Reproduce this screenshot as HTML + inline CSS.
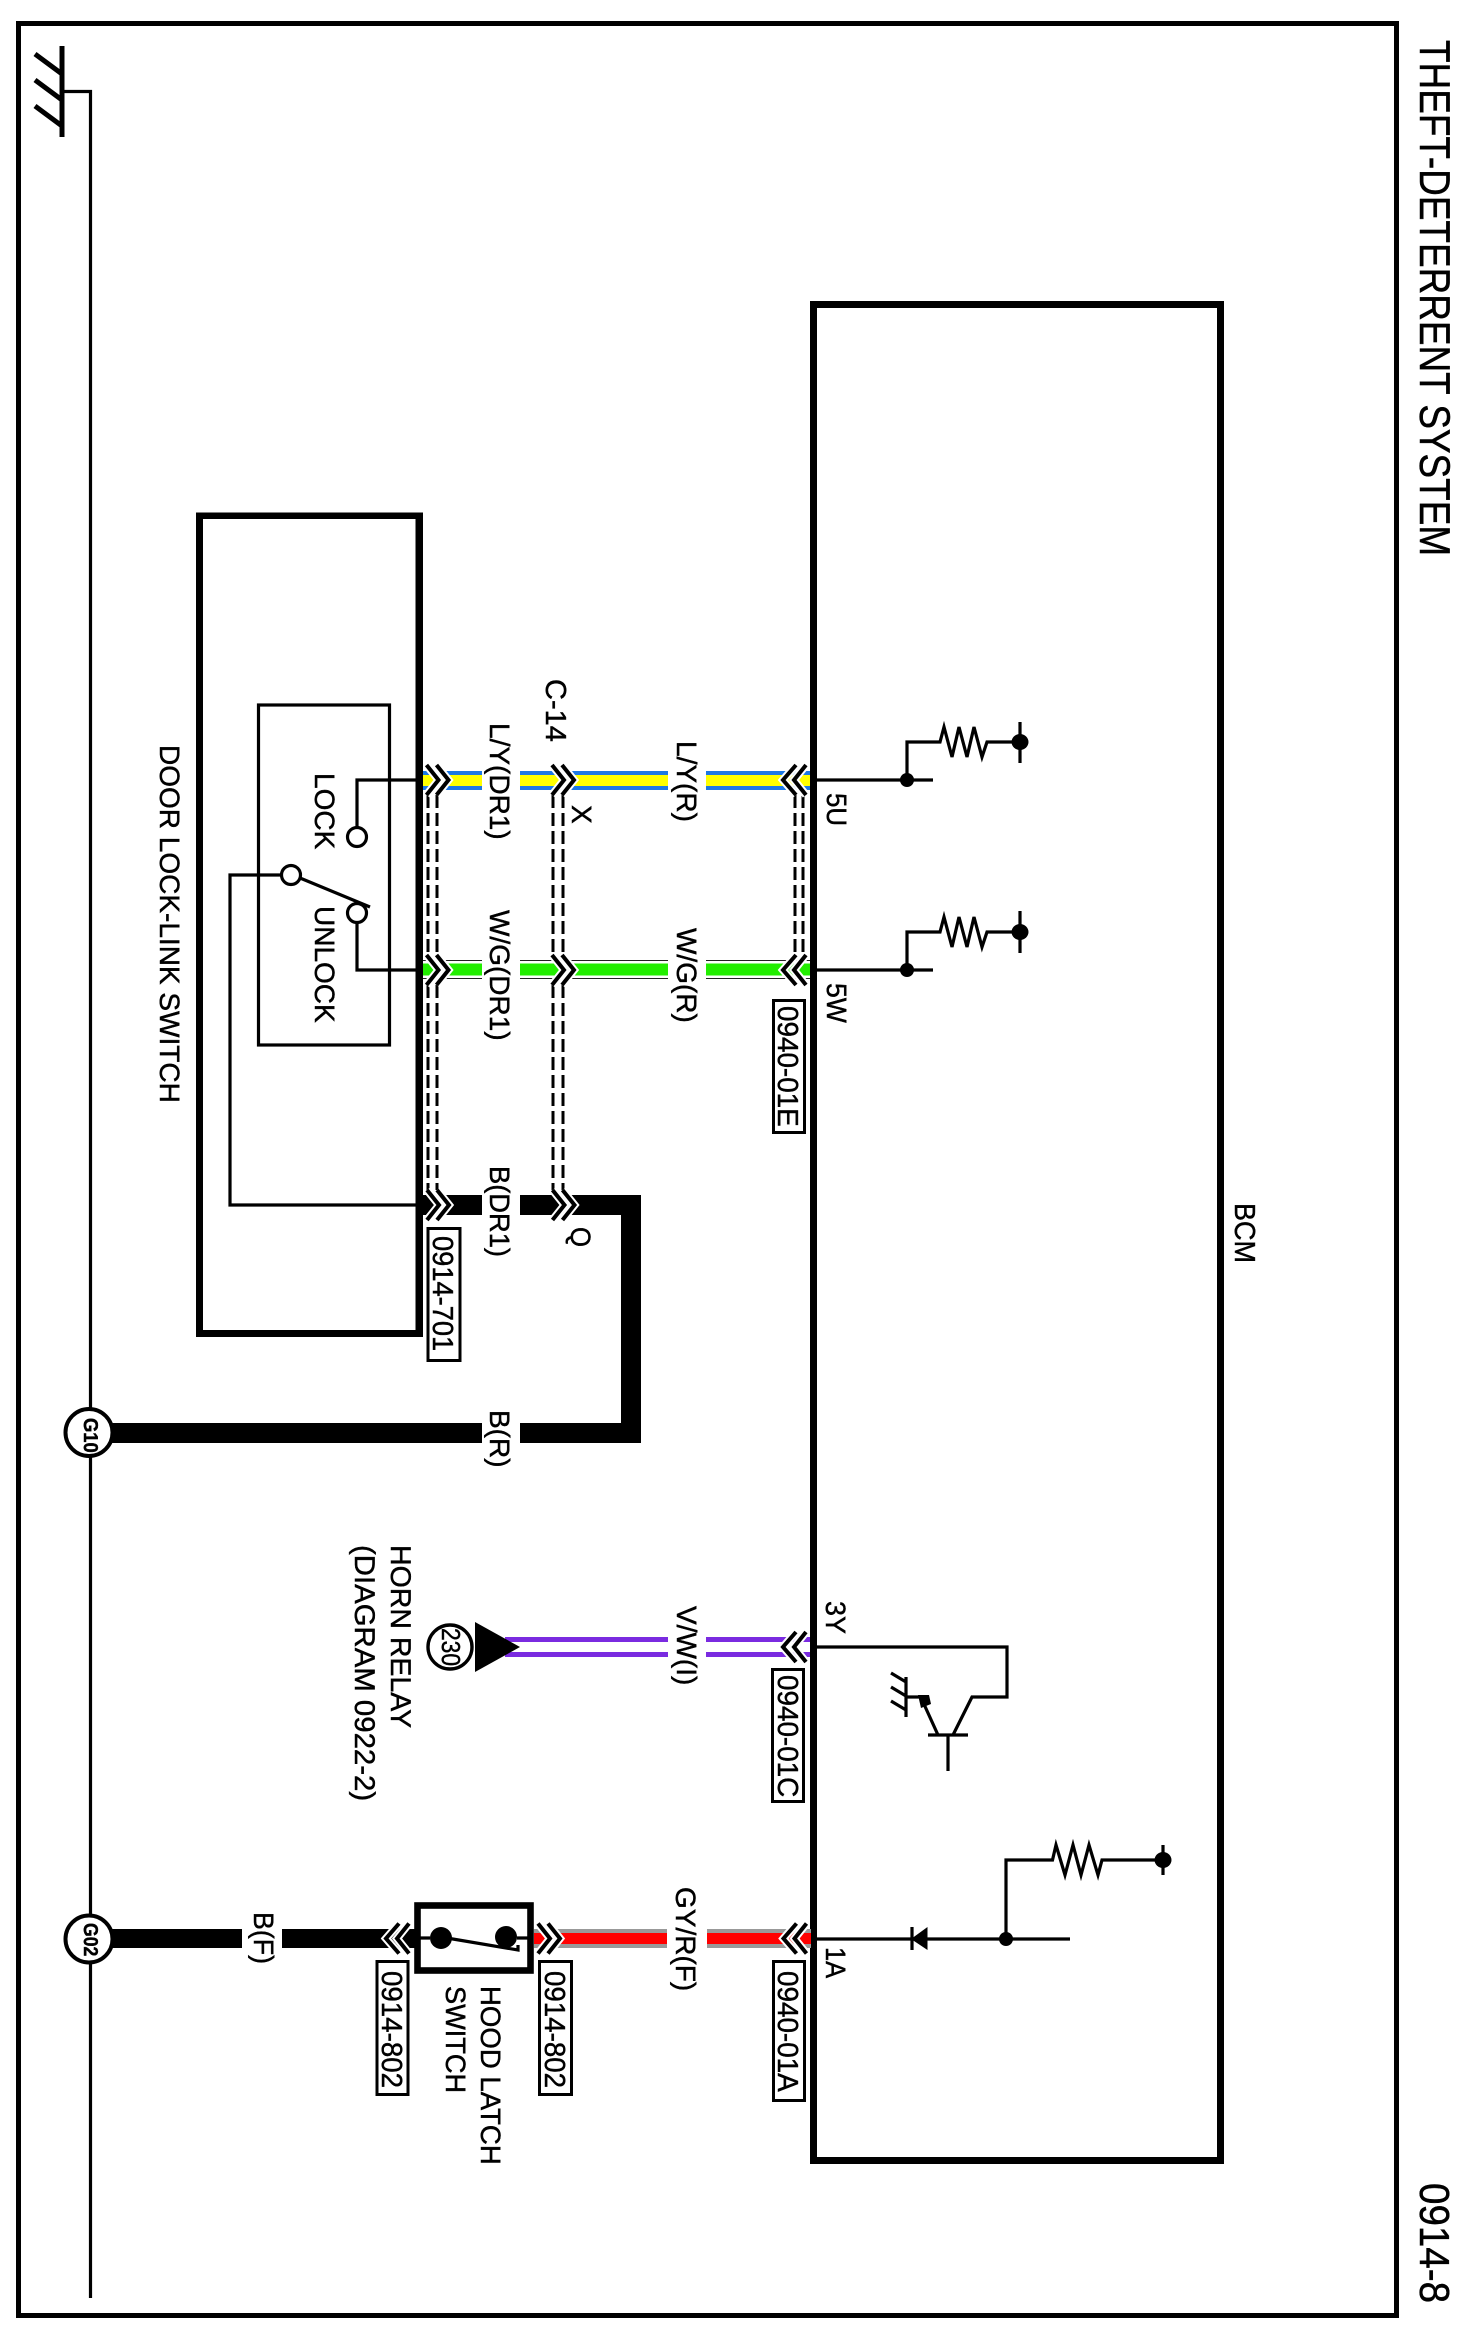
<!DOCTYPE html>
<html>
<head>
<meta charset="utf-8">
<style>
html,body{margin:0;padding:0;background:#fff;}
svg{display:block;}
text{font-family:"Liberation Sans",Arial,sans-serif;fill:#000;stroke:#000;stroke-width:.45;text-rendering:geometricPrecision;}
.l{stroke:#000;fill:none;stroke-width:3.2;}
.d{stroke:#000;fill:none;stroke-width:3;stroke-dasharray:13 5;}
.t{stroke:#222;fill:none;stroke-width:1;}
</style>
</head>
<body>
<svg xmlns="http://www.w3.org/2000/svg" width="1460" height="2337" viewBox="0 0 1460 2337">
<defs>
<g id="cr">
<polyline points="0,-15 12,0 0,15" fill="none" stroke="#fff" stroke-width="8"/>
<polyline points="10,-15 22,0 10,15" fill="none" stroke="#fff" stroke-width="8"/>
<polyline points="0,-15 12,0 0,15" fill="none" stroke="#000" stroke-width="4"/>
<polyline points="10,-15 22,0 10,15" fill="none" stroke="#000" stroke-width="4"/>
</g>
<g id="cl">
<polyline points="13,-15 0,0 13,15" fill="none" stroke="#fff" stroke-width="8"/>
<polyline points="23,-15 11,0 23,15" fill="none" stroke="#fff" stroke-width="8"/>
<polyline points="13,-15 0,0 13,15" fill="none" stroke="#000" stroke-width="4"/>
<polyline points="23,-15 11,0 23,15" fill="none" stroke="#000" stroke-width="4"/>
</g>
</defs>
<rect width="1460" height="2337" fill="#fff"/>

<!-- frame -->
<rect x="18.5" y="23.5" width="1378" height="2292" fill="none" stroke="#000" stroke-width="5"/>

<!-- ground -->
<path class="l" d="M62 46V137" style="stroke-width:5"/>
<path class="l" d="M35 54L62 74M35 80L62 100M35 106L62 126" style="stroke-width:5"/>
<path class="l" d="M62 91.5H90.5V2298"/>

<!-- BCM box -->
<rect x="810" y="301" width="7" height="1863"/>
<rect x="1217" y="301" width="7" height="1863"/>
<rect x="810" y="301" width="414" height="7"/>
<rect x="810" y="2157" width="414" height="7"/>

<!-- door lock box -->
<rect x="196" y="512.5" width="7" height="824.5"/>
<rect x="415.5" y="512.5" width="7.5" height="824.5"/>
<rect x="196" y="512.5" width="227" height="6.5"/>
<rect x="196" y="1330" width="227" height="7"/>
<rect x="258.5" y="705" width="131" height="340" fill="none" stroke="#000" stroke-width="3.2"/>

<!-- switch -->
<path class="l" d="M417 780H357V827"/>
<circle cx="357" cy="837" r="9.5" fill="#fff" stroke="#000" stroke-width="3.2"/>
<path class="l" d="M417 970H357V923"/>
<circle cx="357" cy="913" r="9.5" fill="#fff" stroke="#000" stroke-width="3.2"/>
<path class="l" d="M281 875H230V1205H417"/>
<circle cx="291" cy="875" r="9.5" fill="#fff" stroke="#000" stroke-width="3.2"/>
<path class="l" d="M300 878L370 907"/>

<!-- L/Y wire -->
<g>
<rect x="423" y="771" width="59" height="19" fill="#1d78e4"/><rect x="423" y="775" width="59" height="11" fill="#ffff00"/>
<rect x="520" y="771" width="148" height="19" fill="#1d78e4"/><rect x="520" y="775" width="148" height="11" fill="#ffff00"/>
<rect x="706" y="771" width="104" height="19" fill="#1d78e4"/><rect x="706" y="775" width="104" height="11" fill="#ffff00"/>
</g>
<!-- W/G wire -->
<path class="t" d="M423 960.5H482M423 978.5H482M520 960.5H668M520 978.5H668M706 960.5H810M706 978.5H810"/>
<rect x="423" y="963.5" width="59" height="12" fill="#22ee00"/>
<rect x="520" y="963.5" width="148" height="12" fill="#22ee00"/>
<rect x="706" y="963.5" width="104" height="12" fill="#22ee00"/>
<path class="l" d="M417 780H423M417 970H423"/>

<!-- black wires -->
<rect x="423" y="1195" width="59" height="20"/>
<path d="M520 1195H641V1443H520V1423H621V1215H520Z"/>
<rect x="100" y="1423" width="382" height="20"/>
<rect x="100" y="1929" width="142" height="19"/>
<rect x="282" y="1929" width="135" height="19"/>

<!-- red wire -->
<rect x="534" y="1929" width="133" height="19" fill="#999"/><rect x="534" y="1933" width="133" height="11" fill="#ff0000"/>
<rect x="707" y="1929" width="104" height="19" fill="#999"/><rect x="707" y="1933" width="104" height="11" fill="#ff0000"/>

<!-- purple wire -->
<rect x="505" y="1637" width="163" height="5" fill="#7a2be0"/><rect x="505" y="1652" width="163" height="5" fill="#7a2be0"/>
<rect x="706" y="1637" width="104" height="5" fill="#7a2be0"/><rect x="706" y="1652" width="104" height="5" fill="#7a2be0"/>

<!-- dashed shields -->
<path class="d" d="M428 795V955M437 795V955M428 985V1190M437 985V1190"/>
<path class="d" d="M553 795V955M563 795V955M553 985V1190M563 985V1190"/>
<path class="d" d="M795 795V955M803 795V955"/>

<!-- chevrons -->
<use href="#cr" x="426.5" y="780"/><use href="#cr" x="552" y="780"/><use href="#cl" x="783" y="780"/>
<use href="#cr" x="426.5" y="970"/><use href="#cr" x="552" y="970"/><use href="#cl" x="783" y="970"/>
<use href="#cr" x="427" y="1205"/><use href="#cr" x="552.5" y="1205"/>
<use href="#cl" x="783" y="1647"/>
<use href="#cl" x="386" y="1938.5"/><use href="#cr" x="538" y="1938.5"/><use href="#cl" x="783.5" y="1938.5"/>

<!-- BCM internals 5U / 5W -->
<path class="l" d="M817 780H933M907 780V742H940L944 727L952 757L959 727L967 757L974 727L982 757L987 742H1020M1020 722V763"/>
<circle cx="907" cy="780" r="7"/><ellipse cx="1020" cy="742" rx="8.5" ry="8"/>
<path class="l" d="M817 970H933M907 970V932H940L944 917L952 947L959 917L967 947L974 917L982 947L987 932H1020M1020 911V953"/>
<circle cx="907" cy="970" r="7"/><ellipse cx="1020" cy="932" rx="8.5" ry="8"/>

<!-- transistor -->
<path class="l" d="M817 1647H1007V1697H972L953 1735M928 1735H968M948 1735V1771M938 1735L923 1702M923 1697H906M906 1677V1717M891 1673L906 1682M891 1687L906 1696M891 1701L906 1710"/>
<path d="M918 1695L929 1695L931 1704L921 1708Z"/>

<!-- diode / 1A -->
<path class="l" d="M817 1939H1070M1006 1939V1860H1052.5L1056 1845L1065 1875L1073 1845L1081 1875L1089 1845L1098 1875L1102 1860H1163M1163 1845V1875"/>
<circle cx="1006" cy="1939" r="7"/><ellipse cx="1163" cy="1860" rx="8.5" ry="8"/>
<path d="M911 1939L927.5 1927V1950Z"/>
<path class="l" d="M912 1927V1950"/>

<!-- ground circles -->
<circle cx="89" cy="1432.5" r="23.5" fill="#fff" stroke="#000" stroke-width="4"/>
<circle cx="89" cy="1939" r="23.5" fill="#fff" stroke="#000" stroke-width="4"/>

<!-- horn relay symbol -->
<circle cx="450" cy="1647" r="22" fill="#fff" stroke="#000" stroke-width="3.4"/>
<polygon points="475,1622 475,1672 520,1647"/>

<!-- hood latch switch -->
<rect x="417.5" y="1905.5" width="113" height="65" fill="#fff" stroke="#000" stroke-width="6.6"/>
<circle cx="441" cy="1938" r="11"/><circle cx="506" cy="1937" r="11"/>
<path class="l" d="M420 1938H430M517 1938H528"/>
<path class="l" d="M441 1937L518 1950V1945"/>
<rect x="409" y="1930" width="6" height="17"/>

<!-- ref boxes -->
<g fill="#fff" stroke="#000" stroke-width="3">
<rect x="428" y="1228.5" width="32" height="132"/>
<rect x="773.5" y="1000.5" width="31" height="132"/>
<rect x="772.5" y="1669.5" width="31" height="132"/>
<rect x="773.5" y="1961.5" width="31" height="139"/>
<rect x="377" y="1961.5" width="31" height="133"/>
<rect x="539.5" y="1961.5" width="32" height="133"/>
</g>

<!-- text -->
<text transform="translate(1420,40) rotate(90) scale(.917,1.07)" font-size="40.25">THEFT-DETERRENT SYSTEM</text>
<text transform="translate(1420,2183) rotate(90) scale(.918,1)" font-size="42">0914-8</text>
<text transform="translate(160,745) rotate(90)" font-size="28">DOOR LOCK-LINK SWITCH</text>
<text transform="translate(315,773) rotate(90)" font-size="28">LOCK</text>
<text transform="translate(315,906) rotate(90)" font-size="28">UNLOCK</text>
<text transform="translate(546,679) rotate(90)" font-size="29">C-14</text>
<text transform="translate(490,723) rotate(90)" font-size="28">L/Y(DR1)</text>
<text transform="translate(572,805) rotate(90)" font-size="28">X</text>
<text transform="translate(490,910) rotate(90)" font-size="28">W/G(DR1)</text>
<text transform="translate(490,1166) rotate(90) scale(.975,1)" font-size="28">B(DR1)</text>
<text transform="translate(571,1227) rotate(90) scale(.92,1)" font-size="28">Q</text>
<text transform="translate(433,1236) rotate(90) scale(.94,1)" font-size="29">0914-701</text>
<text transform="translate(490,1410) rotate(90)" font-size="28">B(R)</text>
<text transform="translate(677,741) rotate(90)" font-size="28">L/Y(R)</text>
<text transform="translate(677,928) rotate(90)" font-size="28">W/G(R)</text>
<text transform="translate(827,793) rotate(90) scale(.92,1)" font-size="28">5U</text>
<text transform="translate(827,983) rotate(90) scale(.95,1)" font-size="28">5W</text>
<text transform="translate(778,1006) rotate(90) scale(.96,1)" font-size="29">0940-01E</text>
<text transform="translate(391,1545) rotate(90)" font-size="28.5">HORN RELAY</text>
<text transform="translate(355,1545) rotate(90) scale(1.03,1)" font-size="28.5">(DIAGRAM 0922-2)</text>
<text transform="translate(442,1628) rotate(90) scale(.876,1)" font-size="26">230</text>
<text transform="translate(677,1606) rotate(90)" font-size="28">V/W(I)</text>
<text transform="translate(826,1601) rotate(90) scale(.96,1)" font-size="28">3Y</text>
<text transform="translate(778,1675) rotate(90) scale(.96,1)" font-size="29">0940-01C</text>
<text transform="translate(254,1912) rotate(90) scale(.955,1)" font-size="28">B(F)</text>
<text transform="translate(382,1971) rotate(90) scale(.955,1)" font-size="29">0914-802</text>
<text transform="translate(545,1971) rotate(90) scale(.955,1)" font-size="29">0914-802</text>
<text transform="translate(481,1986) rotate(90) scale(.985,1)" font-size="28">HOOD LATCH</text>
<text transform="translate(446,1986) rotate(90) scale(.97,1)" font-size="28">SWITCH</text>
<text transform="translate(676,1887) rotate(90)" font-size="28">GY/R(F)</text>
<text transform="translate(826,1947) rotate(90) scale(.91,1)" font-size="28">1A</text>
<text transform="translate(778,1971) rotate(90) scale(.96,1)" font-size="29">0940-01A</text>
<text transform="translate(1235,1203) rotate(90) scale(.93,1)" font-size="29">BCM</text>
<text transform="translate(84,1418) rotate(90) scale(.92,1)" font-size="20" font-weight="bold">G10</text>
<text transform="translate(84,1923) rotate(90) scale(.88,1)" font-size="20" font-weight="bold">G02</text>
</svg>
</body>
</html>
